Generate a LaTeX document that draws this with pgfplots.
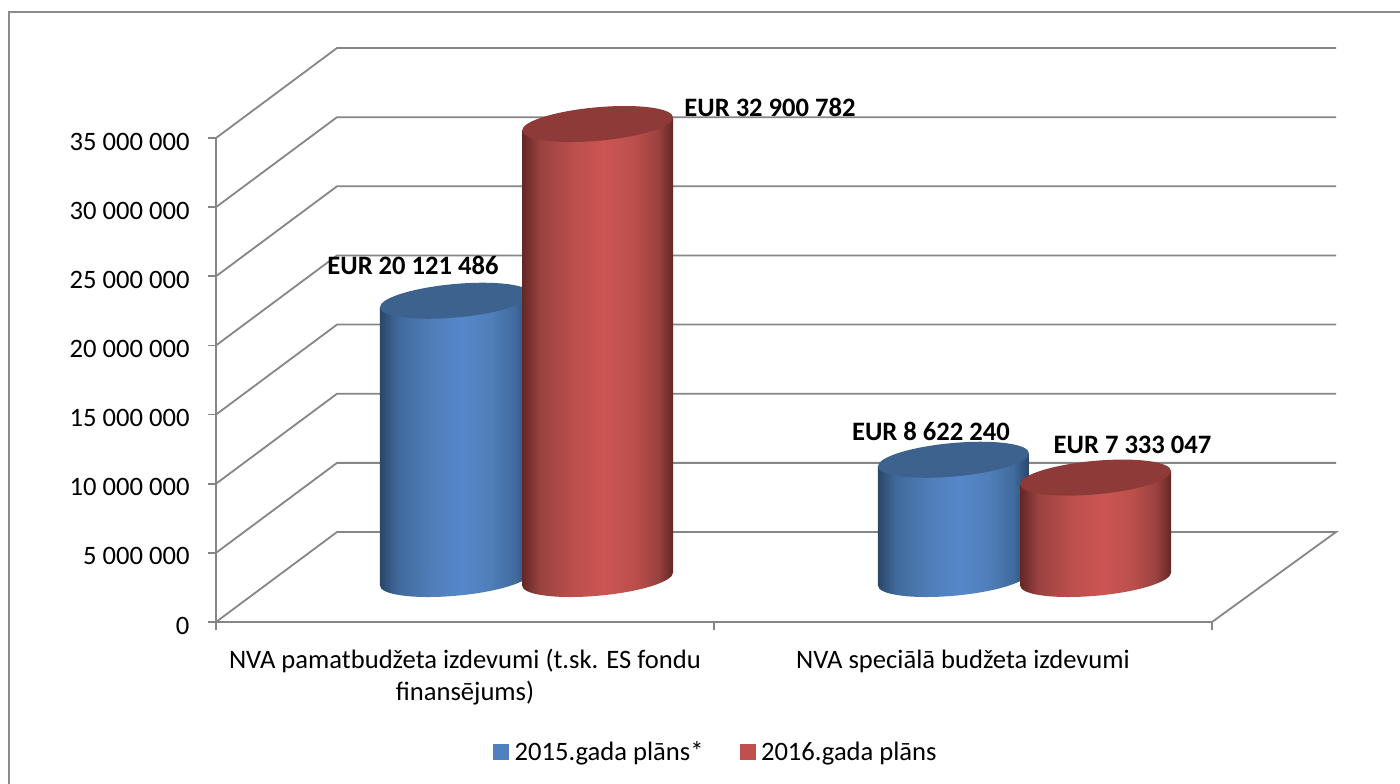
\documentclass[border=0pt]{standalone}
\usepackage{fontspec}
\setmainfont{Carlito}
\usepackage{pgfplots}
\pgfplotsset{compat=1.18}
\definecolor{gridc}{HTML}{868686}
\definecolor{frm}{HTML}{8C8C8C}
\definecolor{legb}{HTML}{4F81BD}
\definecolor{legr}{HTML}{C0504D}
\definecolor{topb}{HTML}{3E628E}
\definecolor{topr}{HTML}{8D3A38}
\definecolor{b0}{HTML}{2B4669}
\definecolor{b1}{HTML}{3F6A9C}
\definecolor{b2}{HTML}{4F7EB8}
\definecolor{b3}{HTML}{5587CB}
\definecolor{r0}{HTML}{632725}
\definecolor{r1}{HTML}{9A4240}
\definecolor{r2}{HTML}{BC4F4C}
\definecolor{r3}{HTML}{CC5553}
\pgfdeclarehorizontalshading{bodyblue}{100bp}{color(0bp)=(b0); color(25bp)=(b0); color(31bp)=(b1); color(42bp)=(b2); color(52bp)=(b3); color(62bp)=(b2); color(70bp)=(b1); color(75bp)=(b0); color(100bp)=(b0)}
\pgfdeclarehorizontalshading{bodyred}{100bp}{color(0bp)=(r0); color(25bp)=(r0); color(31bp)=(r1); color(42bp)=(r2); color(52bp)=(r3); color(62bp)=(r2); color(70bp)=(r1); color(75bp)=(r0); color(100bp)=(r0)}
\newcommand{\cylend}{\pgfpathellipse{\pgfpointorigin}{\pgfqpoint{75.5pt}{6.5pt}}{\pgfqpoint{0pt}{16.8pt}}}
\pgfdeclareplotmark{botb}{\cylend\pgfshadepath{bodyblue}{0}\pgfusepath{discard}}
\pgfdeclareplotmark{botr}{\cylend\pgfshadepath{bodyred}{0}\pgfusepath{discard}}
\pgfdeclareplotmark{topb}{\pgfsetfillcolor{topb}\cylend\pgfusepath{fill}}
\pgfdeclareplotmark{topr}{\pgfsetfillcolor{topr}\cylend\pgfusepath{fill}}
\tikzset{lbl/.style={font=\fontsize{26.6}{30}\selectfont\bfseries,anchor=center,inner sep=0pt}}
\pgfplotsset{
  wall/.style={gridc,line width=1.8pt,mark=none,forget plot},
  base/.style={scale only axis,width=996pt,height=484pt,xmin=0,xmax=2,ymin=0,ymax=35000000,clip=false,anchor=south west,scaled y ticks=false},
  body/.style={draw=none,shade,mark=none,forget plot},
  dot/.style={only marks,forget plot},
}
\begin{document}
\begin{tikzpicture}[x=1pt,y=1pt]
\path[use as bounding box] (0,0) rectangle (1400,784);
\fill[white] (0,0) rectangle (1400,784);
\draw[frm,line width=1.8pt] (9,0) -- (9,772) -- (1400,772);
\begin{axis}[base,at={(216pt,162pt)},
  axis x line*=bottom,axis y line*=left,
  axis line style={gridc,line width=1.8pt,-},
  tick style={gridc,line width=1.8pt},
  tick align=outside,major tick length=8pt,
  xtick={0,1,2},x tick label as interval=true,
  xticklabels={{NVA pamatbudžeta izdevumi (t.sk. ES fondu\\finansējums)},{NVA speciālā budžeta izdevumi}},
  x tick label style={align=center,font=\fontsize{26.6}{32}\selectfont,yshift=-16pt,anchor=north},
  ytick={0,5000000,10000000,15000000,20000000,25000000,30000000,35000000},
  yticklabels={0,5 000 000,10 000 000,15 000 000,20 000 000,25 000 000,30 000 000,35 000 000},
  y tick label style={font=\fontsize{26.6}{30}\selectfont,xshift=-15pt,yshift=-3.5pt},
  legend style={at={(0.502,-0.2686)},anchor=center,draw=none,fill=none,legend columns=2,
    font=\fontsize{26.6}{30}\selectfont,/tikz/every even column/.append style={column sep=34pt},/tikz/every odd column/.append style={column sep=4pt}},
]
\addplot[wall] coordinates {(0,0) (0.243,6507000) (2.249,6507000) (2,0)};
\addplot[wall] coordinates {(0,5000000) (0.243,11507000) (2.249,11507000)};
\addplot[wall] coordinates {(0,10000000) (0.243,16507000) (2.249,16507000)};
\addplot[wall] coordinates {(0,15000000) (0.243,21507000) (2.249,21507000)};
\addplot[wall] coordinates {(0,20000000) (0.243,26507000) (2.249,26507000)};
\addplot[wall] coordinates {(0,25000000) (0.243,31507000) (2.249,31507000)};
\addplot[wall] coordinates {(0,30000000) (0.243,36507000) (2.249,36507000)};
\addplot[wall] coordinates {(0,35000000) (0.243,41507000) (2.249,41507000)};
\addlegendimage{legend image code/.code={\fill[legb] (0pt,-7.5pt) rectangle (15pt,7.5pt);}}
\addlegendentry{2015.gada plāns*}
\addlegendimage{legend image code/.code={\fill[legr] (0pt,-7.5pt) rectangle (15pt,7.5pt);}}
\addlegendentry{2016.gada plāns}
\end{axis}
% 2015 cylinders
\begin{axis}[base,at={(277.5pt,205pt)},hide axis]
\addplot[dot,mark=botb] coordinates {(0.3573,0)};
\addplot[body,shading=bodyblue] coordinates {(0.2056,-470000) (0.2056,19651486) (0.5090,20591486) (0.5090,470000)} -- cycle;
\addplot[dot,mark=topb] coordinates {(0.3573,20121486)};
\addplot[dot,mark=botb] coordinates {(1.3573,0)};
\addplot[body,shading=bodyblue] coordinates {(1.2056,-470000) (1.2056,8152240) (1.5090,9092240) (1.5090,470000)} -- cycle;
\addplot[dot,mark=topb] coordinates {(1.3573,8622240)};
\end{axis}
% 2016 cylinders, in front of the 2015 ones
\begin{axis}[base,at={(277.5pt,205pt)},hide axis]
\addplot[dot,mark=botr] coordinates {(0.6427,0)};
\addplot[body,shading=bodyred] coordinates {(0.4910,-470000) (0.4910,32430782) (0.7944,33370782) (0.7944,470000)} -- cycle;
\addplot[dot,mark=topr] coordinates {(0.6427,32900782)};
\addplot[dot,mark=botr] coordinates {(1.6427,0)};
\addplot[body,shading=bodyred] coordinates {(1.4910,-470000) (1.4910,6863047) (1.7944,7803047) (1.7944,470000)} -- cycle;
\addplot[dot,mark=topr] coordinates {(1.6427,7333047)};
\node[lbl] at (axis cs:0.2721,22700000) {EUR 20 121 486};
\node[lbl] at (axis cs:0.9890,34130000) {EUR 32 900 782};
\node[lbl] at (axis cs:1.3122,10700000) {EUR 8 622 240};
\node[lbl] at (axis cs:1.7169,9690000) {EUR 7 333 047};
\end{axis}
\end{tikzpicture}
\end{document}
